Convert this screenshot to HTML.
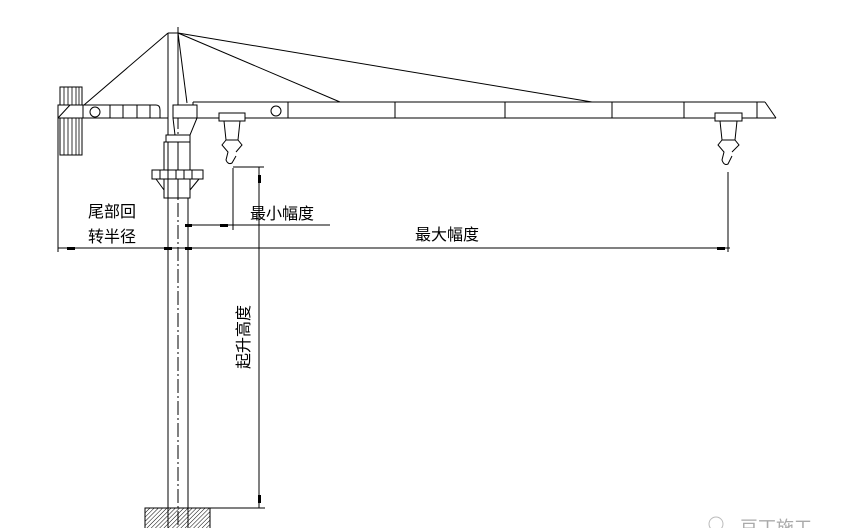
<!DOCTYPE html>
<html><head><meta charset="utf-8"><style>
html,body{margin:0;padding:0;background:#fff;}
svg{display:block}
text{font-family:"Liberation Sans","Noto Sans CJK SC",sans-serif;fill:#000}
</style></head><body>
<svg width="851" height="528" viewBox="0 0 851 528" xmlns="http://www.w3.org/2000/svg">
<defs>
<pattern id="h" width="3" height="3" patternUnits="userSpaceOnUse" patternTransform="rotate(45)">
<line x1="0" y1="0" x2="0" y2="3" stroke="#000" stroke-width="1"/></pattern>
</defs>
<g stroke="#000" stroke-width="1" fill="none">
<line x1="168" y1="33" x2="168" y2="528"/>
<line x1="188" y1="198" x2="188" y2="528"/>
<line x1="178" y1="27" x2="178" y2="528" stroke-dasharray="14,3,2,3"/>
<line x1="168" y1="33" x2="178" y2="33"/>
<line x1="178" y1="33" x2="178" y2="105"/>
<line x1="168" y1="33" x2="70" y2="117"/>
<line x1="178" y1="33" x2="340" y2="102"/>
<line x1="178" y1="33" x2="592" y2="102"/>
<line x1="178" y1="33" x2="187" y2="103"/>
<rect x="60" y="87" width="22" height="68"/>
<g stroke-width="0.8">
<line x1="64" y1="87" x2="64" y2="155"/><line x1="68" y1="87" x2="68" y2="155"/><line x1="72" y1="87" x2="72" y2="155"/><line x1="76" y1="87" x2="76" y2="155"/><line x1="79" y1="87" x2="79" y2="155"/>
</g>
<path d="M58 105 H156 Q160 105 160 110 V118 H58 Z" fill="#fff"/>
<line x1="83" y1="105" x2="83" y2="118"/><line x1="110" y1="105" x2="110" y2="118"/><line x1="123" y1="105" x2="123" y2="118"/><line x1="137" y1="105" x2="137" y2="118"/><line x1="150" y1="105" x2="150" y2="118"/>
<circle cx="95" cy="112" r="5"/>
<line x1="58" y1="118" x2="70" y2="105"/>
<line x1="160" y1="118" x2="168" y2="118"/>
<rect x="173" y="105" width="24" height="13" fill="#fff"/>
<path d="M173 118 L175 135 H190 L197 118" />
<rect x="166" y="135" width="24" height="7" fill="#fff"/>
<rect x="164" y="142" width="26" height="56" fill="#fff"/>
<line x1="168" y1="142" x2="168" y2="198"/><line x1="178" y1="142" x2="178" y2="198"/>
<rect x="152" y="170" width="51" height="9" fill="#fff"/>
<line x1="160" y1="170" x2="160" y2="179"/><line x1="168" y1="170" x2="168" y2="179"/><line x1="176" y1="170" x2="176" y2="179"/><line x1="184" y1="170" x2="184" y2="179"/><line x1="192" y1="170" x2="192" y2="179"/>
<path d="M156 179 L164 190 M199 179 L190 190"/>
<line x1="193" y1="102" x2="765" y2="102"/>
<line x1="193" y1="102" x2="193" y2="105"/>
<line x1="197" y1="118" x2="776" y2="118"/>
<line x1="765" y1="102" x2="776" y2="118"/>
<line x1="288" y1="102" x2="288" y2="118"/><line x1="395" y1="102" x2="395" y2="118"/><line x1="505" y1="102" x2="505" y2="118"/><line x1="612" y1="102" x2="612" y2="118"/><line x1="684" y1="102" x2="684" y2="118"/><line x1="757" y1="102" x2="757" y2="118"/>
<circle cx="276" cy="111" r="5"/>
<rect x="219" y="113" width="26" height="8" fill="#fff"/>
<path d="M224 121 L226 140 L222 145 L228 152 L226 160 Q228 165 232 163 L236 156 M240 121 L238 140 L242 145 L236 152"/>
<line x1="226" y1="140" x2="238" y2="140"/>
<rect x="715" y="113" width="27" height="8" fill="#fff"/>
<path d="M720 121 L722 140 L718 145 L724 152 L722 160 Q724 166 728 164 L732 156 M737 121 L735 140 L739 145 L732 152"/>
<line x1="722" y1="140" x2="735" y2="140"/>
<line x1="58" y1="118" x2="58" y2="252"/>
<line x1="58" y1="248" x2="730" y2="248"/>
<line x1="728" y1="172" x2="728" y2="252"/>
<line x1="233" y1="168" x2="233" y2="230"/>
<line x1="185" y1="225" x2="330" y2="225"/>
<line x1="233" y1="167" x2="264" y2="167"/>
<line x1="259" y1="167" x2="259" y2="508"/>
<line x1="188" y1="508" x2="265" y2="508"/>
</g>
<g fill="#000">
<rect x="67" y="247" width="8" height="3"/><rect x="164" y="247" width="8" height="3"/><rect x="185" y="247" width="7" height="3"/><rect x="717" y="247" width="8" height="3"/>
<rect x="185" y="224" width="7" height="3"/><rect x="220" y="224" width="8" height="3"/>
<rect x="258" y="175" width="3" height="8"/><rect x="258" y="495" width="3" height="8"/>
</g>
<rect x="145" y="508" width="65" height="22" fill="url(#h)" stroke="#000"/>
<text x="88" y="217" font-size="16">尾部回</text>
<text x="88" y="242" font-size="16">转半径</text>
<text x="250" y="219" font-size="16">最小幅度</text>
<text x="415" y="240" font-size="16">最大幅度</text>
<text transform="translate(249,337) rotate(-90)" font-size="16" text-anchor="middle">起升高度</text>
<text x="740" y="534" font-size="18" style="fill:#aaa">豆丁施工</text>
<circle cx="716" cy="524" r="7" fill="none" stroke="#bbb"/>
</svg>
</body></html>
